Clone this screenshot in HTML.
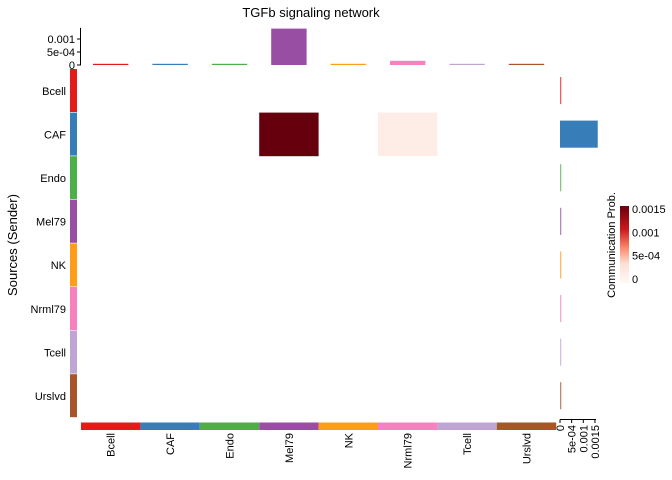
<!DOCTYPE html>
<html><head><meta charset="utf-8"><style>
body{margin:0;background:#fff;}
svg{display:block;font-family:"Liberation Sans",Arial,sans-serif;}
</style></head><body>
<svg id="c" width="672" height="480" viewBox="0 0 672 480">
<text x="311" y="17" font-size="13" text-anchor="middle">TGFb signaling network</text>
<text transform="translate(17,245) rotate(-90)" font-size="13" text-anchor="middle">Sources (Sender)</text>
<g id="g"></g>
</svg>
<script>
const groups = ["Bcell","CAF","Endo","Mel79","NK","Nrml79","Tcell","Urslvd"];
const groupColors = ["#E41A1C","#377EB8","#4DAF4A","#984EA3","#FF9C1A","#F781BF","#BFA5D3","#A65628"];
// matrix: rows = senders, cols = receivers
const probMatrix = [
 [0,0,0,0,0,0,0,0],
 [0.00001,0.00001,0.00001,0.0014,0.00001,0.00016,0.00001,0.00001],
 [0,0,0,0,0,0,0,0],
 [0,0,0,0,0,0,0,0],
 [0,0,0,0,0,0,0,0],
 [0,0,0,0,0,0,0,0],
 [0,0,0,0,0,0,0,0],
 [0,0,0,0,0,0,0,0]
];
const topTicks = [0,0.0005,0.001];
const topTickLabels = ["0","5e-04","0.001"];
const rightTicks = [0,0.0005,0.001,0.0015];
const rightTickLabels = ["0","5e-04","0.001","0.0015"];
const legendTicks = [0,0.0005,0.001,0.0015];
const legendTickLabels = ["0","5e-04","0.001","0.0015"];

const NS="http://www.w3.org/2000/svg";
const g=document.getElementById('g');
function mk(t,a,p){const e=document.createElementNS(NS,t);for(const k in a)e.setAttribute(k,a[k]);(p||g).appendChild(e);return e;}
const X0=81,CW=59.4,Y0=69,RH=43.6,n=groups.length;
const colX=i=>X0+i*CW, rowY=i=>Y0+i*RH;
const topY=v=>65-v*26000;
const rightX=v=>560+v*23300;
const legY=v=>279-v*46700;
const stops=[[0,[255,248,245]],[0.25,[253,224,212]],[0.45,[251,140,110]],[0.7,[203,24,29]],[1,[103,0,13]]];
function col(v){let t=Math.max(0,Math.min(1,v/0.0014));for(let i=1;i<stops.length;i++){if(t<=stops[i][0]){const a=stops[i-1],b=stops[i],f=(t-a[0])/(b[0]-a[0]);return 'rgb('+a[1].map((c,j)=>Math.round(c+(b[1][j]-c)*f)).join(',')+')';}}return 'rgb(103,0,13)';}

probMatrix.forEach((row,r)=>row.forEach((v,c)=>{ if(v>0.0001){
  const e=mk('rect',{x:colX(c),y:rowY(r),width:CW,height:RH,fill:col(v)});
  
  
}}));
groups.forEach((gname,i)=>{
  const e=mk('rect',{x:70,y:rowY(i),width:7,height:RH-0.6,fill:groupColors[i]});
  
  
  const t=mk('text',{x:66,y:rowY(i)+RH/2+4,'font-size':11,'text-anchor':'end'});t.textContent=gname;
  
  
  const b=mk('rect',{x:colX(i),y:422.5,width:CW,height:7.5,fill:groupColors[i]});
  
  
  const ct=mk('text',{transform:'translate('+(colX(i)+CW/2+4)+',433) rotate(-90)','font-size':11,'text-anchor':'end'});ct.textContent=gname;
  
  
});
const colSums=groups.map((_,c)=>probMatrix.reduce((s,r)=>s+r[c],0));
const rowSums=probMatrix.map(r=>r.reduce((s,v)=>s+v,0));
colSums.forEach((v,i)=>{
  const h=Math.max(1.2,65-topY(v));
  const e=mk('rect',{x:colX(i)+12,y:65-h,width:CW-24,height:h,fill:groupColors[i]});
  
  
});
mk('line',{x1:80.5,y1:topY(0.00143),x2:80.5,y2:65.5,stroke:'#000','stroke-width':1});
topTicks.forEach((v,i)=>{
  mk('line',{x1:77,y1:topY(v),x2:80.5,y2:topY(v),stroke:'#000'});
  const t=mk('text',{x:75,y:topY(v)+4,'font-size':11,'text-anchor':'end'});t.textContent=topTickLabels[i];
  
  
});
rowSums.forEach((v,i)=>{
  const w=Math.max(1.3,rightX(v)-560);
  const e=mk('rect',{x:560,y:rowY(i)+8,width:w,height:RH-16.5,fill:groupColors[i],opacity:v>0?1:0.7});
  
  
});
mk('line',{x1:560,y1:419.5,x2:rightX(0.00155),y2:419.5,stroke:'#000'});
rightTicks.forEach((v,i)=>{
  mk('line',{x1:rightX(v),y1:419.5,x2:rightX(v),y2:423,stroke:'#000'});
  const t=mk('text',{transform:'translate('+(rightX(v)+4)+',425) rotate(-90)','font-size':11,'text-anchor':'end'});t.textContent=rightTickLabels[i];
  
  
});
const defs=mk('defs',{});
const lg=mk('linearGradient',{id:'lg',x1:0,y1:1,x2:0,y2:0},defs);
[0,0.25,0.45,0.7,1].forEach(f=>mk('stop',{offset:f,'stop-color':col(f*0.0014)},lg));
const lr=mk('rect',{x:620,y:206,width:9,height:77,fill:'url(#lg)'});


legendTicks.forEach((v,i)=>{
  const t=mk('text',{x:632,y:legY(v)+4,'font-size':11});t.textContent=legendTickLabels[i];
  
  
});
const lt=mk('text',{transform:'translate(615,245) rotate(-90)','font-size':11,'text-anchor':'middle'});lt.textContent='Communication Prob.';


</script>
</body></html>
